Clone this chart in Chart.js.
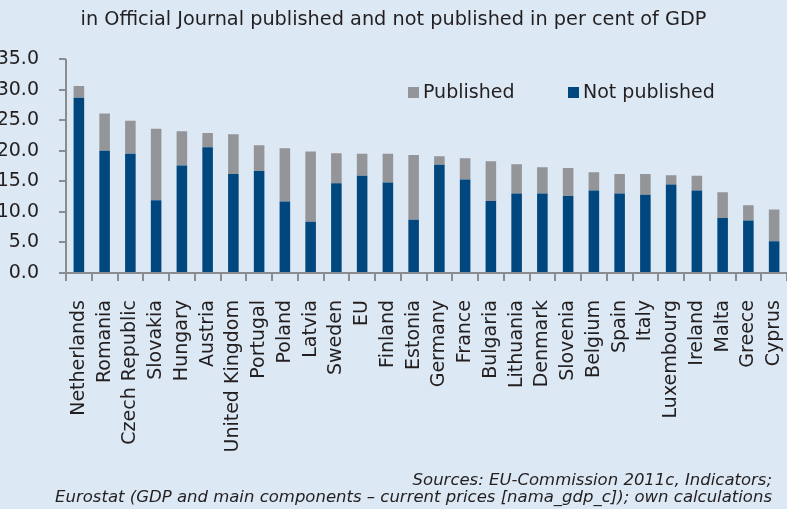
<!DOCTYPE html>
<html>
<head>
<meta charset="utf-8">
<script src="https://cdn.jsdelivr.net/npm/chart.js@4/dist/chart.umd.min.js"></script>
<style>
  html, body { margin: 0; padding: 0; background: #dce8f4; }
  #wrap { width: 787px; height: 509px; position: relative; }
</style>
</head>
<body>
<div id="wrap"><canvas id="gdpChart"></canvas></div>
<script>
const countries = ['Netherlands', 'Romania', 'Czech Republic', 'Slovakia', 'Hungary', 'Austria',
  'United Kingdom', 'Portugal', 'Poland', 'Latvia', 'Sweden', 'EU', 'Finland', 'Estonia',
  'Germany', 'France', 'Bulgaria', 'Lithuania', 'Denmark', 'Slovenia', 'Belgium', 'Spain',
  'Italy', 'Luxembourg', 'Ireland', 'Malta', 'Greece', 'Cyprus'];
const notPublished = [28.7, 20.0, 19.5, 11.9, 17.6, 20.6, 16.2, 16.7, 11.7, 8.4, 14.7, 15.9, 14.8, 8.7,
  17.7, 15.3, 11.8, 13.0, 13.0, 12.6, 13.5, 13.0, 12.8, 14.5, 13.5, 9.0, 8.6, 5.2];
const published = [1.9, 6.1, 5.4, 11.7, 5.6, 2.3, 6.5, 4.2, 8.7, 11.5, 4.9, 3.6, 4.7, 10.6,
  1.4, 3.5, 6.5, 4.8, 4.3, 4.6, 3.0, 3.2, 3.4, 1.5, 2.4, 4.2, 2.5, 5.2];
const yTicks = [0, 5, 10, 15, 20, 25, 30, 35];
const sources = ['Sources: EU-Commission 2011c, Indicators;',
  'Eurostat (GDP and main components \u2013 current prices [nama_gdp_c]); own calculations'];

const FONT = 'DejaVu Sans';
const TEXT = '#231f20';
const AXIS = '#8a8c8f';

// axis lines and tick marks, drawn from the scales
const axisLines = {
  id: 'axisLines',
  afterDraw(chart) {
    const { ctx, chartArea: a, scales: { x, y } } = chart;
    ctx.save();
    ctx.fillStyle = AXIS;
    // y axis and its ticks
    ctx.fillRect(a.left - 1, a.top, 2, a.bottom - a.top);
    yTicks.forEach(v => {
      const py = Math.round(y.getPixelForValue(v));
      ctx.fillRect(a.left - 7, py - 1, 7, 2);
    });
    // x axis and category ticks
    ctx.fillRect(a.left - 7, a.bottom - 1, a.right - a.left + 7, 2);
    const step = x.width / countries.length;
    for (let i = 0; i <= countries.length; i++) {
      const px = Math.round(x.getPixelForValue(0) - step / 2 + i * step);
      ctx.fillRect(px - 1, a.bottom, 2, 8);
    }
    ctx.restore();
  }
};

// legend inside the plot, Published first
const innerLegend = {
  id: 'innerLegend',
  afterDraw(chart, args, opts) {
    const ctx = chart.ctx;
    ctx.save();
    ctx.font = '19px "' + FONT + '"';
    ctx.textBaseline = 'middle';
    opts.items.forEach(it => {
      const ds = chart.data.datasets[it.index];
      ctx.fillStyle = ds.backgroundColor;
      ctx.fillRect(it.x, opts.y - 5, 11, 11);
      ctx.fillStyle = TEXT;
      ctx.fillText(ds.label, it.x + 15, opts.y + 1);
    });
    ctx.restore();
  }
};

// source note, bottom right
const sourceNote = {
  id: 'sourceNote',
  afterDraw(chart, args, opts) {
    const ctx = chart.ctx;
    ctx.save();
    ctx.font = 'italic 16.5px "' + FONT + '"';
    ctx.fillStyle = TEXT;
    ctx.textAlign = 'right';
    ctx.textBaseline = 'middle';
    sources.forEach((s, i) => ctx.fillText(s, opts.right, opts.y + i * opts.lineGap));
    ctx.restore();
  }
};

new Chart(document.getElementById('gdpChart'), {
  type: 'bar',
  data: {
    labels: countries,
    datasets: [
      { label: 'Not published', data: notPublished, backgroundColor: '#00467f' },
      { label: 'Published', data: published, backgroundColor: '#939598' }
    ]
  },
  options: {
    responsive: true,
    maintainAspectRatio: false,
    animation: false,
    layout: { padding: 0, autoPadding: false },
    datasets: { bar: { barPercentage: 0.41, categoryPercentage: 1.0 } },
    scales: {
      x: {
        stacked: true,
        grid: { display: false },
        border: { display: false },
        ticks: { color: TEXT, font: { family: FONT, size: 19 }, minRotation: 90, maxRotation: 90, autoSkip: false, padding: 19 },
        afterFit(s) { s.height = 236; s.paddingLeft = 0; s.paddingRight = 0; }
      },
      y: {
        stacked: true,
        min: 0,
        max: 35,
        afterBuildTicks(s) { s.ticks = yTicks.map(v => ({ value: v })); },
        grid: { display: false },
        border: { display: false },
        ticks: { color: TEXT, font: { family: FONT, size: 19 }, padding: 19, callback: v => Number(v).toFixed(1) },
        afterFit(s) { s.width = 66; }
      }
    },
    plugins: {
      legend: { display: false },
      tooltip: { enabled: false },
      title: {
        display: true,
        text: 'in Official Journal published and not published in per cent of GDP',
        color: TEXT,
        font: { family: FONT, size: 19.3, weight: 'normal' },
        padding: { top: 8, bottom: 28 }
      },
      innerLegend: {
        y: 92,
        items: [ { index: 1, x: 408 }, { index: 0, x: 568 } ]
      },
      sourceNote: { right: 772, y: 481, lineGap: 17 }
    }
  },
  plugins: [axisLines, innerLegend, sourceNote]
});
</script>
</body>
</html>
